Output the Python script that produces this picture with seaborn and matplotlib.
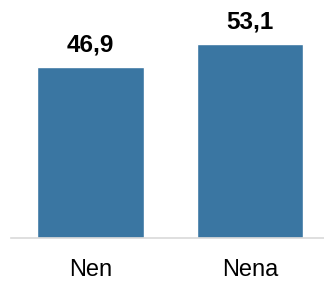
import matplotlib
matplotlib.use("Agg")
import matplotlib.pyplot as plt
import seaborn as sns
import pandas as pd

categories = ["Nen", "Nena"]
values = [46.9, 53.1]
value_labels = ["46,9", "53,1"]

sns.set_style("white")
plt.rcParams["font.family"] = ["Liberation Sans", "DejaVu Sans"]

df = pd.DataFrame({"cat": categories, "val": values})

fig = plt.figure(figsize=(3.24, 2.81), dpi=100)
ax = fig.add_axes([11 / 324, 43 / 281, 313 / 324, 238 / 281])
sns.barplot(data=df, x="cat", y="val", color="#3A76A2", saturation=1,
            width=0.67, ax=ax)

for p, lab in zip(ax.patches, value_labels):
    ax.annotate(lab, (p.get_x() + p.get_width() / 2, p.get_height()),
                xytext=(0, 11.5), textcoords="offset points",
                ha="center", va="baseline", fontsize=17.5, fontweight="bold",
                color="black")

ax.set_xlim(-0.5, 1.464)
ax.set_ylim(0, 65.3)
ax.set_xlabel("")
ax.set_ylabel("")
ax.set_yticks([])
ax.tick_params(axis="x", length=0, pad=15, labelsize=17, labelcolor="black")
for s in ["top", "right", "left"]:
    ax.spines[s].set_visible(False)
ax.spines["bottom"].set_color("#d9d9d9")
ax.spines["bottom"].set_linewidth(1.2)

fig.savefig("out.png", dpi=100)
